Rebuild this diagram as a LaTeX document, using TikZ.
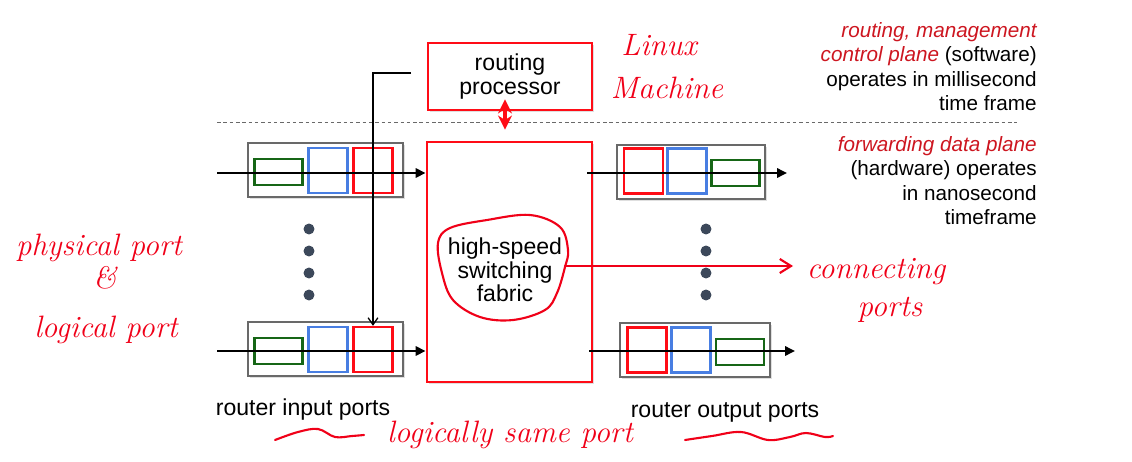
\documentclass[tikz,border=0pt]{standalone}
\usepackage{fontspec}
\setmainfont{Liberation Sans}
\newfontfamily\handfont{Latin Modern Roman}
\usetikzlibrary{arrows.meta,shadows,calc}

\definecolor{boxred}{RGB}{255,12,22}
\definecolor{planered}{RGB}{205,22,32}
\definecolor{inkred}{RGB}{240,0,24}
\definecolor{qgreen}{RGB}{22,102,22}
\definecolor{qblue}{RGB}{72,126,226}
\definecolor{portgray}{RGB}{105,105,105}
\definecolor{dotgray}{RGB}{60,72,90}

\begin{document}
\begin{tikzpicture}[
		x=0.025cm, y=-0.025cm,
		>=Stealth,
		shade/.style={
			drop shadow={shadow xshift=1.5pt, shadow yshift=-1.5pt, opacity=0.25}
		},
		redbox/.style={
			draw=boxred,
			line width=2pt,
			fill=white,
			inner sep=0pt,
			align=center,
			font=\fontsize{16.4}{17}\selectfont,
			shade
		},
		port/.style={
			draw=portgray,
			line width=1.3pt,
			fill=white,
			minimum height=1.35cm,
			inner sep=0pt,
			shade
		},
		qg/.style={draw=qgreen, line width=1.8pt, minimum width=1.2cm, minimum height=0.65cm, inner sep=0pt},
		qb/.style={draw=qblue, line width=1.8pt, minimum width=0.98cm, minimum height=1.12cm, inner sep=0pt},
		qr/.style={draw=boxred, line width=1.8pt, minimum width=0.98cm, minimum height=1.12cm, inner sep=0pt},
		flow/.style={-{Triangle[length=7pt,width=6.5pt]}, line width=1.8pt},
		ctl/.style={-{Straight Barb[length=5pt,width=7pt]}, line width=0.9pt},
		lbl/.style={font=\fontsize{16.4}{17}\selectfont, inner sep=0pt},
		plane/.style={font=\fontsize{14.7}{17.4}\selectfont, align=right, inner sep=0pt},
		hand/.style={text=inkred, font=\handfont\itshape\fontsize{22}{24}\selectfont, inner sep=0pt},
		ink/.style={draw=inkred, line width=1.5pt, line cap=round, line join=round}
		]
		
		\useasboundingbox (0,0) rectangle (1132,461);
		
		% Routing processor and fabric
		\node[redbox, minimum width=4.1cm, minimum height=1.675cm] (rp) at (510,76.5) {routing\\processor};
		\node[redbox, minimum width=4.125cm, minimum height=6cm] (fabric) at (509.5,262) {};
		\node[lbl, align=center, font=\fontsize{16.4}{16.6}\selectfont] (fabtxt) at (505,270) {high-speed\\switching\\fabric};
		
		% Plane separator
		\coordinate (sepL) at (217,122);
		\coordinate (sepR) at (1017,122);
		\draw[dashed, portgray, line width=0.6pt, dash pattern=on 2.5pt off 2pt] (sepL) -- (sepR);
		
		% Input ports
		\node[port, minimum width=3.875cm] (inA) at (325.5,170) {};
		\node[qg] (qgA) at (278.5,172) {};
		\node[qb] (qbA) at (328,170.5) {};
		\node[qr] (qrA) at (373,170.5) {};
		
		\node[port, minimum width=3.875cm] (inB) at (325.5,349) {};
		\node[qg] (qgB) at (278.5,351) {};
		\node[qb] (qbB) at (328,349.5) {};
		\node[qr] (qrB) at (373,349.5) {};
		
		% Output ports
		\node[port, minimum width=3.7cm] (outA) at (691,172) {};
		\node[qr] (orA) at (643.5,171) {};
		\node[qb] (obA) at (687,171) {};
		\node[qg] (ogA) at (735.5,173) {};
		
		\node[port, minimum width=3.75cm] (outB) at (695,350) {};
		\node[qr] (orB) at (647,350) {};
		\node[qb] (obB) at (691,350) {};
		\node[qg] (ogB) at (740,352) {};
		
		% Dots
		\foreach \y in {229,251,273,295} {
			\fill[dotgray] (309,\y) circle (3.9pt);
			\fill[dotgray] (706,\y) circle (3.9pt);
		}
		
		% Datagram flow
		\coordinate (srcA) at (217,173);
		\coordinate (srcB) at (217,351);
		\coordinate (oA) at (587,173);
		\coordinate (oB) at (589,351);
		\coordinate (dstA) at (787,173);
		\coordinate (dstB) at (795,351);
		\draw[flow] (srcA) -- (srcA -| fabric.west);
		\draw[flow] (srcB) -- (srcB -| fabric.west);
		\draw[flow] (oA) -- (dstA);
		\draw[flow] (oB) -- (dstB);
		
		% Control path
		\coordinate (ctlA) at (411,73);
		\draw[ctl] (ctlA) -| (qrB.north);
		\draw[{Stealth[length=10pt,width=10pt]}-{Stealth[length=10pt,width=10pt]}, boxred, line width=2.6pt]
		($(rp.south)+(-5,-12)$) -- ($(fabric.north)+(-4.5,-11)$);
		
		% Plane notes
		\node[plane, anchor=north east] (ctrl) at (1037,22)
		{\textcolor{planered}{\itshape routing, management}\\
			\textcolor{planered}{\itshape control plane} (software)\\
			operates in millisecond\\
			time frame};
		\node[plane, anchor=north east] (data) at (1037,136)
		{\textcolor{planered}{\itshape forwarding data plane}\\
			(hardware) operates\\
			in nanosecond\\
			timeframe};
		
		\node[lbl] (inlbl) at (303,410) {router input ports};
		\node[lbl] (outlbl) at (725,412) {router output ports};
		
		% Annotations
		\node[hand] (linux) at (659,45) {Linux};
		\node[hand] (machine) at (667,88) {Machine};
		\node[hand] (phys) at (99,248) {physical port};
		\node[hand] (amp) at (105,278) {\&};
		\node[hand] (logi) at (106,330) {logical port};
		\node[hand] (conn) at (876,272) {connecting};
		\node[hand] (cports) at (890,310) {ports};
		\node[hand] (same) at (510,435) {logically same port};
		
		\draw[ink] plot[smooth cycle, tension=0.6] coordinates {
			(487,220) (530,215) (560,227) (568,250) (565,267) (557,293)
			(545,310) (513,320) (480,317) (453,300) (442,273) (438,243) (450,228)};
		\coordinate (circ) at (565,266);
		\coordinate (connend) at (793,266);
		\draw[ink, -{Straight Barb[length=8pt,width=10pt]}] (circ) -- (connend);
		
		\draw[ink] plot[smooth, tension=0.6] coordinates {
			(275,440) (298,432) (318,429) (335,437) (352,436) (364,435)};
		\draw[ink] plot[smooth, tension=0.6] coordinates {
			(685,440) (712,436) (741,432) (768,440) (790,437) (806,433) (825,437) (833,436)};
		
	\end{tikzpicture}
\end{document}
